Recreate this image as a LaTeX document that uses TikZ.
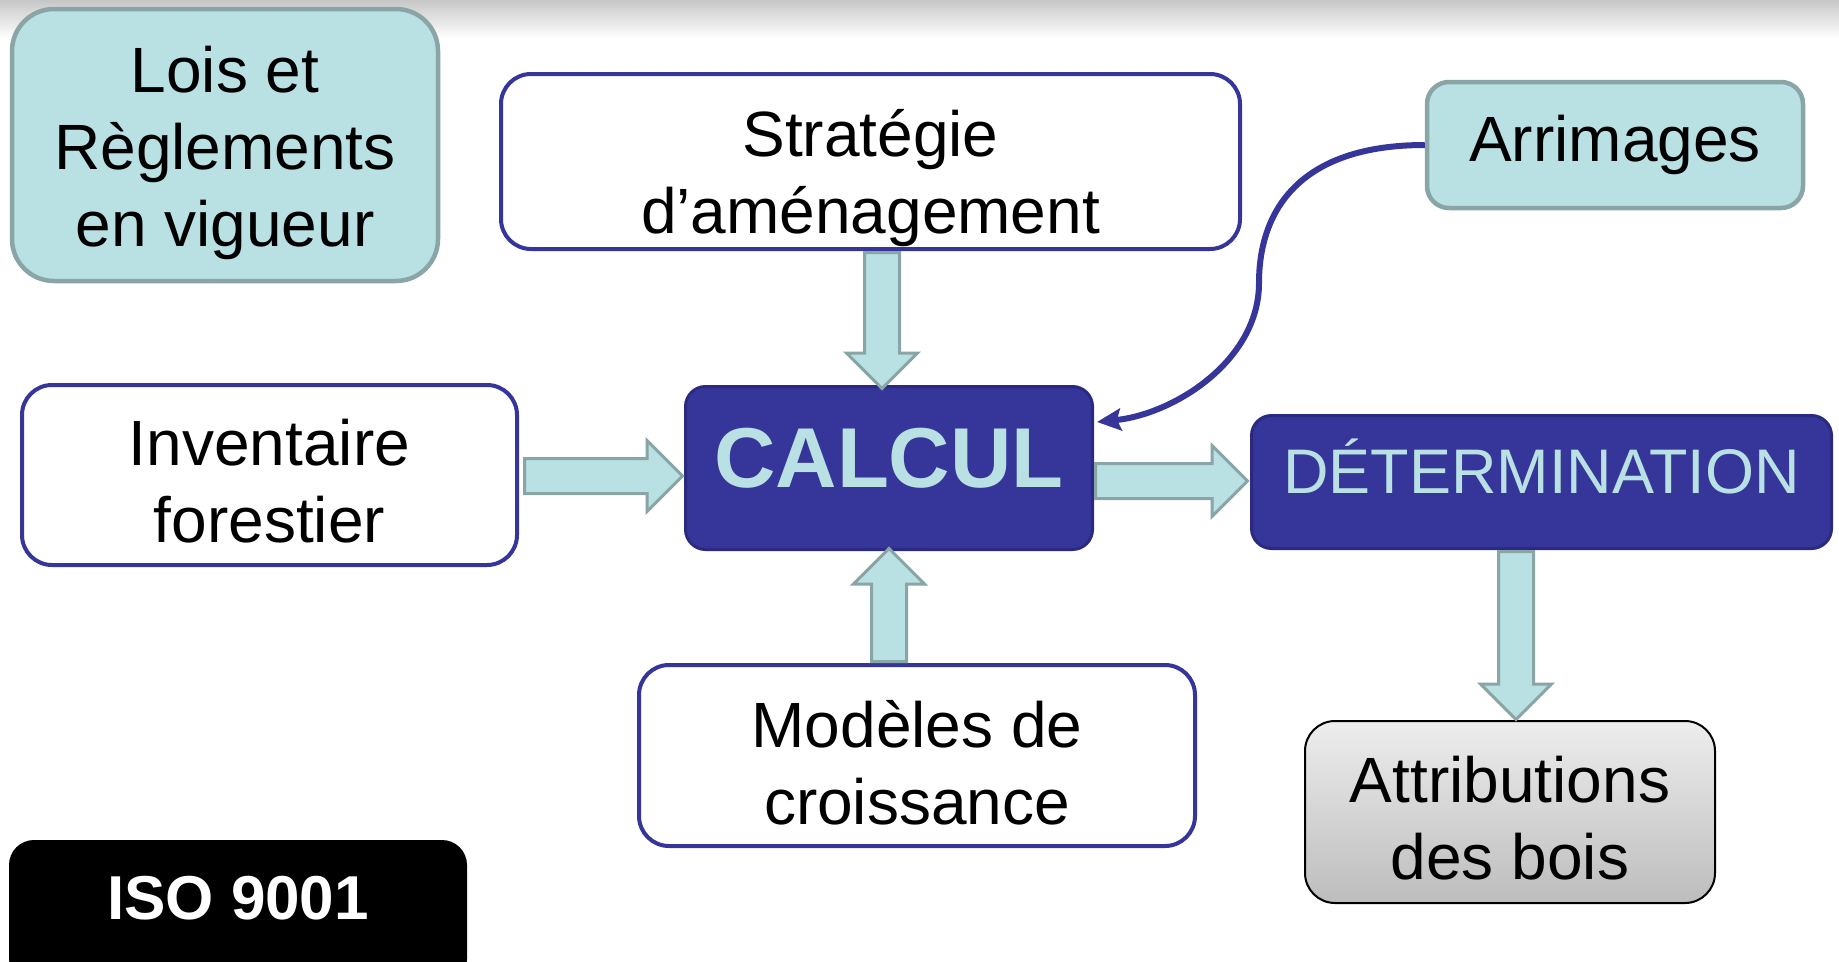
\documentclass[tikz,border=0pt]{standalone}
\usepackage{fontspec}
\setmainfont{Liberation Sans}
\usetikzlibrary{shapes.arrows,arrows.meta,calc}
\definecolor{cyanf}{HTML}{B9E0E3}
\definecolor{grayb}{HTML}{8AA5A6}
\definecolor{navy}{HTML}{35359A}
\definecolor{navyd}{HTML}{2A2A80}
\newcommand\topstrut[1]{\rule{0pt}{#1pt}}
\begin{document}
\begin{tikzpicture}[x=1pt,y=-1pt,
  txt/.style={font=\fontsize{64}{77}\selectfont, align=center, text=black, inner sep=0pt},
  wbox/.style={draw=navy, line width=4pt, fill=white, rounded corners=30pt, txt},
  cbox/.style={draw=grayb, line width=4.5pt, fill=cyanf, txt},
  dbox/.style={draw=navyd, line width=3pt, fill=navy, rounded corners=20pt, inner sep=0pt, text=cyanf},
  barrow/.style={single arrow, draw=grayb, fill=cyanf, line width=3pt, inner xsep=0pt, inner ysep=16pt,
     minimum width=0pt, single arrow head extend=18pt, anchor=tail},
  curv/.style={draw=navy, line width=6pt, -{Stealth[length=24pt,width=22pt,inset=4pt]}}
]
\useasboundingbox (0,0) rectangle (1839,961);
\shade[top color=black!22, bottom color=white] (0,0) rectangle (1839,38);

\node[cbox, rounded corners=42pt, minimum width=426pt, minimum height=272pt] (lois) at (225,145) {\topstrut{62}Lois et\\Règlements\\en vigueur};
\node[wbox, minimum width=739pt, minimum height=175pt] (strat) at (870.5,161.5) {\topstrut{80}Stratégie\\d’aménagement};
\node[cbox, rounded corners=22pt, minimum width=376pt, minimum height=126pt] (arr) at (1615,145) {Arrimages};
\node[wbox, minimum width=495pt, minimum height=180pt] (inv) at (269.5,475) {\topstrut{58}Inventaire\\forestier};
\node[dbox, minimum width=407pt, minimum height=163pt, font=\fontsize{85}{90}\selectfont\bfseries,
      text height=61pt, text depth=22pt] (calc) at (889,468) {CALCUL};
\node[dbox, minimum width=580pt, minimum height=133pt, font=\fontsize{63}{70}\selectfont,
      text height=45pt, text depth=22pt] (det) at (1541.5,482) {DÉTERMINATION};
\node[wbox, minimum width=556pt, minimum height=181pt] (mod) at (917,755.5) {\topstrut{62}Modèles de\\croissance};
\node[txt, draw=black, line width=2pt, rounded corners=30pt, top color=black!7, bottom color=black!26,
      minimum width=410pt, minimum height=182pt] (attr) at (1510,812) {\topstrut{58}Attributions\\des bois};
\node[fill=black, rounded corners=25pt, minimum width=458pt, minimum height=144pt, inner sep=0pt,
      text=white, font=\fontsize{62}{70}\selectfont\bfseries, text height=45pt, text depth=30pt] (iso) at (238,912) {ISO 9001};

% block arrows
\node[barrow, minimum height=136pt, rotate=-90] (a1) at ($(strat.south)+(11.5,0)$) {};
\node[barrow, minimum height=158pt] (a2) at ($(inv.east)+(4,1)$) {};
\node[barrow, minimum height=152pt] (a3) at ($(calc.east)+(0,13)$) {};
\node[barrow, minimum height=113pt, rotate=90] (a4) at (calc.south |- mod.north) {};
\node[barrow, minimum height=168pt, rotate=-90] (a5) at ($(attr.north |- det.south)+(6,0)$) {};

% curved connector
\coordinate (cend) at ($(calc.north east)+(3,37)$);
\draw[curv] (arr.west) .. controls (1300,145) and (1259,210) .. (1259,283)
   .. controls (1259,360) and (1175,414) .. (cend);
\end{tikzpicture}
\end{document}
